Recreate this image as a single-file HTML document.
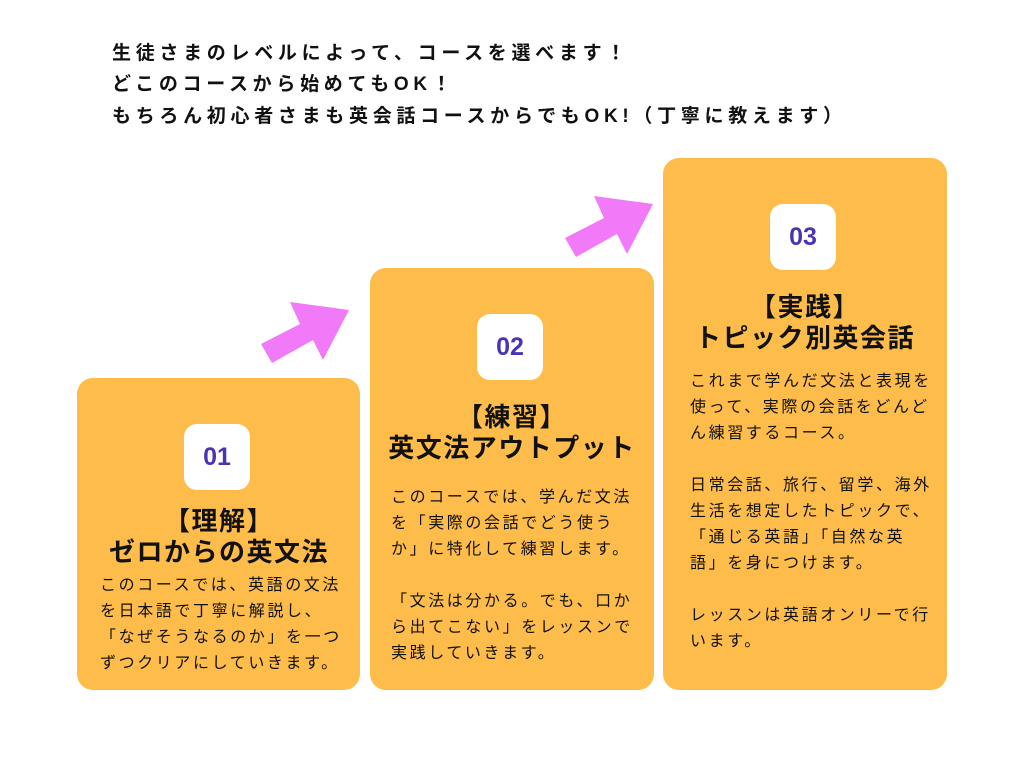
<!DOCTYPE html>
<html><head><meta charset="utf-8"><style>
body{margin:0;width:1024px;height:768px;background:#fff;position:relative;overflow:hidden;font-family:"Liberation Sans","Noto Sans CJK JP",sans-serif;}
.h{position:absolute;left:112px;font-size:19px;font-weight:bold;letter-spacing:4.7px;color:#111;white-space:nowrap}
.card{position:absolute;background:#FEBC4B;border-radius:16px;}
.badge{position:absolute;width:66px;height:66px;background:#fff;border-radius:13px;color:#4B33B5;font-weight:bold;font-size:25px;text-align:center;line-height:66px;}
.t{position:absolute;width:284px;text-align:center;font-weight:bold;font-size:26px;line-height:31px;color:#111;white-space:nowrap;letter-spacing:1.5px}
.b{position:absolute;font-size:16px;line-height:26px;color:#111;white-space:nowrap;letter-spacing:2.6px}
</style></head><body>
<div class="h" style="top:38px">生徒さまのレベルによって、コースを選べます！</div>
<div class="h" style="top:69px">どこのコースから始めてもOK！</div>
<div class="h" style="top:101px">もちろん初心者さまも英会話コースからでもOK!（丁寧に教えます）</div>

<svg width="1024" height="768" style="position:absolute;left:0;top:0">
<polygon points="261,344 300,324 290,302 349,310 323,360 313,340 272,363" fill="#F07AF7"/>
<polygon points="565,238 604,218 594,196 653,204 627,254 617,234 576,257" fill="#F07AF7"/>
</svg>

<div class="card" style="left:77px;top:378px;width:283px;height:312px"></div>
<div class="card" style="left:370px;top:268px;width:284px;height:422px"></div>
<div class="card" style="left:663px;top:158px;width:284px;height:532px"></div>

<div class="badge" style="left:184px;top:424px">01</div>
<div class="badge" style="left:477px;top:314px">02</div>
<div class="badge" style="left:770px;top:204px">03</div>

<div class="t" style="left:77px;top:506px">【理解】<br>ゼロからの英文法</div>
<div class="t" style="left:370px;top:402px">【練習】<br>英文法アウトプット</div>
<div class="t" style="left:663px;top:292px">【実践】<br>トピック別英会話</div>

<div class="b" style="left:100px;top:573px">このコースでは、英語の文法<br>を日本語で丁寧に解説し、<br>「なぜそうなるのか」を一つ<br>ずつクリアにしていきます。</div>
<div class="b" style="left:391px;top:485px">このコースでは、学んだ文法<br>を「実際の会話でどう使う<br>か」に特化して練習します。<br><br>「文法は分かる。でも、口か<br>ら出てこない」をレッスンで<br>実践していきます。</div>
<div class="b" style="left:690px;top:369px">これまで学んだ文法と表現を<br>使って、実際の会話をどんど<br>ん練習するコース。<br><br>日常会話、旅行、留学、海外<br>生活を想定したトピックで、<br>「通じる英語」「自然な英<br>語」を身につけます。<br><br>レッスンは英語オンリーで行<br>います。</div>
</body></html>
